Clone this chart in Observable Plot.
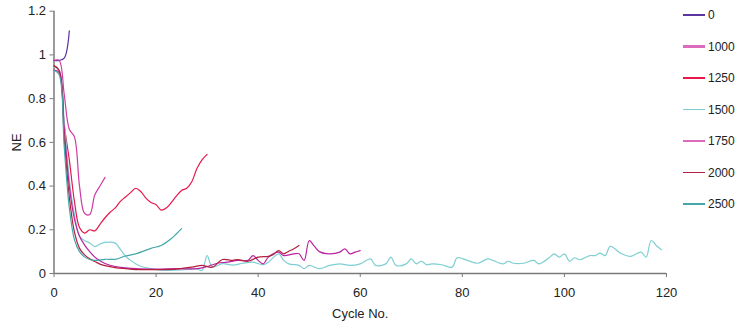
<!DOCTYPE html>
<html>
<head>
<meta charset="utf-8">
<script src="https://cdn.jsdelivr.net/npm/d3@7"></script>
<script src="https://cdn.jsdelivr.net/npm/@observablehq/plot@0.6"></script>
<style>
  body { margin: 0; background: #fff; font-family: "Liberation Sans", Arial, sans-serif; }
  #chart { position: relative; width: 736px; height: 323px; }
  #legend { position: absolute; left: 683px; top: 0; }
  .item { position: absolute; left: 0; height: 14px; display: flex; align-items: center;
          font-size: 12px; color: #222; white-space: nowrap; }
  .sw { width: 22px; margin-right: 3px; }
</style>
</head>
<body>
<div id="chart"><div id="legend"></div></div>
<script>
// Normalised emission (NE) against cycle number, one series per setting
const seriesNames = ["0", "1000", "1250", "1500", "1750", "2000", "2500"];
const seriesColors = ["#5b36a0", "#cf3aa4", "#e6174b", "#7dcfd3", "#bb229f", "#b3203f", "#44a6a8"];

const cycles0 = [0, 1, 2, 3];
const ne0 = [0.975, 0.975, 0.985, 1.11];

const cycles1000 = [0, 1, 2, 3, 4, 5, 6, 7, 8, 9, 10];
const ne1000 = [0.975, 0.975, 0.82, 0.66, 0.625, 0.40, 0.275, 0.27, 0.36, 0.40, 0.44];

const cycles1250 = [0, 1, 2, 3, 4, 5, 6, 7, 8, 9, 10, 11, 12, 13, 14, 15, 16, 17, 18, 19, 20,
  21, 22, 23, 24, 25, 26, 27, 28, 29, 30];
const ne1250 = [0.95, 0.93, 0.68, 0.52, 0.33, 0.21, 0.185, 0.20, 0.195, 0.225, 0.255, 0.28, 0.30,
  0.33, 0.35, 0.37, 0.39, 0.375, 0.345, 0.325, 0.315, 0.29, 0.30, 0.325, 0.355, 0.38, 0.39, 0.42,
  0.48, 0.52, 0.545];

const cycles1500 = [0, 1, 2, 3, 4, 5, 6, 7, 8, 9, 10, 12, 13, 14, 15, 16, 17, 19, 20, 22, 25, 27,
  28, 29, 30, 31, 33, 35, 37, 39, 41, 42, 44, 45, 46, 48, 49, 50, 52, 54, 56, 58, 60, 62, 63, 65,
  66, 67, 69, 70, 71, 72, 73, 74, 76, 78, 79, 81, 83, 85, 86, 88, 89, 90, 92, 94, 95, 97, 98, 99,
  100, 101, 102, 103, 105, 106, 107, 108, 109, 111, 113, 115, 116, 117, 118, 119];
const ne1500 = [0.945, 0.93, 0.70, 0.43, 0.27, 0.17, 0.15, 0.14, 0.123, 0.135, 0.142, 0.139, 0.11,
  0.08, 0.06, 0.045, 0.033, 0.022, 0.018, 0.014, 0.016, 0.02, 0.021, 0.014, 0.082, 0.03, 0.045,
  0.038, 0.047, 0.052, 0.04, 0.052, 0.09, 0.06, 0.044, 0.037, 0.022, 0.037, 0.022, 0.037, 0.044,
  0.037, 0.044, 0.067, 0.037, 0.044, 0.075, 0.037, 0.044, 0.067, 0.044, 0.056, 0.04, 0.044, 0.04,
  0.029, 0.072, 0.06, 0.047, 0.067, 0.06, 0.044, 0.056, 0.047, 0.047, 0.06, 0.044, 0.072, 0.09,
  0.075, 0.09, 0.056, 0.072, 0.063, 0.082, 0.082, 0.093, 0.082, 0.124, 0.093, 0.078, 0.098, 0.075,
  0.151, 0.128, 0.109];

const cycles1750 = [0, 1, 2, 3, 4, 5, 6, 7, 8, 9, 10, 12, 14, 16, 20, 24, 28, 30, 32, 34, 36, 38,
  39, 40, 41, 42, 44, 45, 47, 48, 49, 50, 51, 52, 54, 56, 57, 58, 59, 60];
const ne1750 = [0.93, 0.92, 0.66, 0.40, 0.25, 0.17, 0.13, 0.10, 0.075, 0.058, 0.046, 0.032, 0.026,
  0.022, 0.02, 0.022, 0.022, 0.032, 0.047, 0.052, 0.06, 0.06, 0.082, 0.06, 0.044, 0.075, 0.098,
  0.082, 0.09, 0.09, 0.06, 0.15, 0.125, 0.10, 0.09, 0.098, 0.113, 0.09, 0.098, 0.105];

const cycles2000 = [0, 1, 2, 3, 4, 5, 6, 7, 8, 9, 10, 12, 14, 16, 20, 24, 27, 29, 31, 33, 35, 36,
  38, 40, 42, 43, 44, 45, 46, 47, 48];
const ne2000 = [0.95, 0.93, 0.62, 0.35, 0.19, 0.115, 0.085, 0.067, 0.055, 0.043, 0.036, 0.027,
  0.022, 0.018, 0.018, 0.02, 0.029, 0.037, 0.029, 0.064, 0.06, 0.064, 0.056, 0.075, 0.078, 0.087,
  0.105, 0.09, 0.102, 0.113, 0.128];

const cycles2500 = [0, 1, 2, 3, 4, 5, 6, 7, 8, 10, 12, 14, 16, 19, 21, 23, 24, 25];
const ne2500 = [0.93, 0.91, 0.58, 0.30, 0.155, 0.10, 0.076, 0.064, 0.06, 0.065, 0.065, 0.08, 0.09,
  0.115, 0.128, 0.16, 0.182, 0.205];

const xTicks = [0, 20, 40, 60, 80, 100, 120];
const yTicks = [0, 0.2, 0.4, 0.6, 0.8, 1, 1.2];

const seriesTable = [
  [cycles0, ne0], [cycles1000, ne1000], [cycles1250, ne1250], [cycles1500, ne1500],
  [cycles1750, ne1750], [cycles2000, ne2000], [cycles2500, ne2500]
];
const rows = [];
seriesTable.forEach(([cyc, ne], k) => {
  cyc.forEach((c, i) => rows.push({series: seriesNames[k], cycle: c, ne: ne[i]}));
});

const axisColor = "#7a7a7a";
const chart = Plot.plot({
  width: 736,
  height: 323,
  marginLeft: 53.5,
  marginRight: 70,
  marginTop: 10.7,
  marginBottom: 50,
  style: {fontFamily: "'Liberation Sans', Arial, sans-serif", fontSize: "13px", color: "#222", background: "#fff"},
  x: {domain: [0, 120]},
  y: {domain: [0, 1.2]},
  color: {domain: seriesNames, range: seriesColors},
  marks: [
    Plot.axisY({ticks: yTicks, tickSize: 4, tickPadding: 4, tickFormat: d => String(d), stroke: axisColor,
      label: "NE", labelAnchor: "center", labelArrow: "none", labelOffset: 42}),
    Plot.axisX({ticks: xTicks, tickSize: 4, tickPadding: 10, tickFormat: d => String(d), stroke: axisColor,
      label: "Cycle No.", labelAnchor: "center", labelArrow: "none", labelOffset: 44}),
    Plot.ruleY([0], {stroke: axisColor, strokeWidth: 1.5}),
    Plot.ruleX([0], {stroke: axisColor, strokeWidth: 1.5}),
    Plot.line(rows, {x: "cycle", y: "ne", z: "series", stroke: "series", strokeWidth: 1.2, curve: "catmull-rom"})
  ]
});
document.getElementById("chart").prepend(chart);

// Line-sample legend on the right
const legend = document.getElementById("legend");
seriesNames.forEach((name, i) => {
  const item = document.createElement("div");
  item.className = "item";
  item.style.top = (8 + i * 31.5) + "px";
  const sw = document.createElement("span");
  sw.className = "sw";
  const thick = name === "1000" || name === "1750";
  sw.style.height = thick ? "2.5px" : "1.5px";
  sw.style.background = thick ? "#dc6cbb" : seriesColors[i];
  item.appendChild(sw);
  item.appendChild(document.createTextNode(name));
  legend.appendChild(item);
});
</script>
</body>
</html>
